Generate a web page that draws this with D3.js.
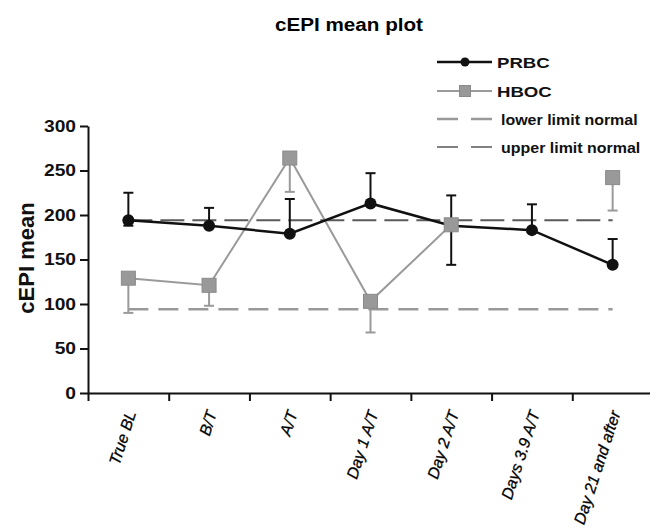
<!DOCTYPE html>
<html>
<head>
<meta charset="utf-8">
<script src="https://cdn.jsdelivr.net/npm/d3@7"></script>
<style>
  body { margin: 0; background: #fff; }
  svg { display: block; font-family: Arial, "Liberation Sans", sans-serif; }
</style>
</head>
<body>
<div id="chart"></div>
<script>
// categories and values
const categories = ['True BL', 'B/T', 'A/T', 'Day 1 A/T', 'Day 2 A/T', 'Days 3.9 A/T', 'Day 21 and after'];
const yTicks = [0, 50, 100, 150, 200, 250, 300];

const prbc = [194, 188, 179, 213, 188, 183, 144];
const prbcHigh = [225, 208, 218, 247, 222, 212, 173];
const prbcLow = [188, null, null, null, 144, null, null];

const hboc = [129, 121, 264, 103, 189, null, 242];
const hbocHigh = [null, null, null, null, null, null, null];
const hbocLow = [90, 98, 226, 68, null, null, 205];

const lowerLimit = 94;
const upperLimit = 194;

const legendLabels = ['PRBC', 'HBOC', 'lower limit normal', 'upper limit normal'];

const width = 650, height = 529;

const svg = d3.select('#chart')
    .append('svg')
    .attr('width', width)
    .attr('height', height);

// the source picture is a bit wider than its fonts, stretch text to match
function stretch(sel, k) {
  sel.each(function() {
    const w = this.getComputedTextLength();
    d3.select(this).attr('textLength', w * k).attr('lengthAdjust', 'spacingAndGlyphs');
  });
}

// scales
const x = d3.scaleBand().domain(categories).range([88, 653]).padding(0);
const xEdge = d3.scaleLinear().domain([0, categories.length]).range([88, 653]);
const y = d3.scaleLinear().domain([0, 300]).range([393, 126]);
const cx = d => x(d) + x.bandwidth() / 2;

// title
svg.append('text')
    .attr('x', 349).attr('y', 31)
    .attr('text-anchor', 'middle')
    .attr('font-size', 17.5).attr('font-weight', 'bold')
    .text('cEPI mean plot')
    .call(stretch, 1.18);

// y axis
const yAxis = svg.append('g')
    .attr('transform', 'translate(88,0)')
    .call(d3.axisLeft(y).tickValues(yTicks).tickSize(8).tickSizeOuter(0).tickPadding(4));
yAxis.selectAll('path, line').attr('stroke', '#111').attr('stroke-width', 2);
yAxis.selectAll('text')
    .attr('font-size', 16).attr('font-weight', 'bold').attr('fill', '#111')
    .attr('font-family', 'Arial, "Liberation Sans", sans-serif')
    .call(stretch, 1.2);

// x axis, ticks at band edges
const xAxis = svg.append('g')
    .attr('transform', 'translate(0,393)')
    .call(d3.axisBottom(xEdge).tickValues(d3.range(categories.length + 1)).tickSize(8).tickSizeOuter(0).tickFormat(''));
xAxis.selectAll('path, line').attr('stroke', '#111').attr('stroke-width', 2);

svg.append('g').selectAll('text')
    .data(categories)
    .join('text')
    .attr('transform', d => `translate(${cx(d) + 8},${413}) rotate(-72)`)
    .attr('text-anchor', 'end')
    .attr('font-size', 16).attr('font-style', 'italic').attr('fill', '#000')
    .attr('stroke', '#000').attr('stroke-width', 0.3)
    .text(d => d);

// y axis title
svg.append('text')
    .attr('transform', 'translate(34,258) rotate(-90)')
    .attr('text-anchor', 'middle')
    .attr('font-size', 22).attr('font-weight', 'bold').attr('fill', '#111')
    .text('cEPI mean');

// normal limits
const x0 = cx(categories[0]), x1 = cx(categories[categories.length - 1]);
svg.append('line')
    .attr('x1', x0).attr('x2', x1).attr('y1', y(lowerLimit)).attr('y2', y(lowerLimit))
    .attr('stroke', '#999').attr('stroke-width', 2.5).attr('stroke-dasharray', '20,10');
svg.append('line')
    .attr('x1', x0).attr('x2', x1).attr('y1', y(upperLimit)).attr('y2', y(upperLimit))
    .attr('stroke', '#5a5a5a').attr('stroke-width', 2).attr('stroke-dasharray', '24,8');

const series = [
  { values: prbc, high: prbcHigh, low: prbcLow, color: '#111', width: 2.5, marker: 'circle' },
  { values: hboc, high: hbocHigh, low: hbocLow, color: '#9a9a9a', width: 2, marker: 'square' }
];

// error bars
series.forEach(s => {
  const g = svg.append('g').attr('stroke', s.color).attr('stroke-width', 2);
  categories.forEach((c, i) => {
    if (s.values[i] == null) return;
    [s.high[i], s.low[i]].forEach(e => {
      if (e == null) return;
      g.append('line').attr('x1', cx(c)).attr('x2', cx(c)).attr('y1', y(s.values[i])).attr('y2', y(e));
      g.append('line').attr('x1', cx(c) - 5).attr('x2', cx(c) + 5).attr('y1', y(e)).attr('y2', y(e));
    });
  });
});

// lines
const line = d3.line()
    .defined(d => d.v != null)
    .x(d => cx(d.c))
    .y(d => y(d.v));

[series[1], series[0]].forEach(s => {
  svg.append('path')
      .datum(categories.map((c, i) => ({ c, v: s.values[i] })))
      .attr('fill', 'none')
      .attr('stroke', s.color)
      .attr('stroke-width', s.width)
      .attr('d', line);
});

// markers
function marker(g, type, px, py, size) {
  if (type === 'circle') {
    g.append('circle').attr('cx', px).attr('cy', py).attr('r', size / 2).attr('fill', '#111');
  } else {
    g.append('rect').attr('x', px - size / 2).attr('y', py - size / 2)
        .attr('width', size).attr('height', size)
        .attr('fill', '#999').attr('stroke', '#8a8a8a').attr('stroke-width', 1);
  }
}

series.forEach(s => {
  const g = svg.append('g');
  categories.forEach((c, i) => {
    if (s.values[i] == null) return;
    marker(g, s.marker, cx(c), y(s.values[i]), s.marker === 'circle' ? 12 : 14);
  });
});

// legend
const legend = svg.append('g');
const legY = [62, 91, 119, 147];
legendLabels.forEach((label, i) => {
  const ly = legY[i];
  if (i < 2) {
    const s = series[i];
    legend.append('line').attr('x1', 437).attr('x2', 492).attr('y1', ly).attr('y2', ly)
        .attr('stroke', s.color).attr('stroke-width', s.width);
    marker(legend, s.marker, 465, ly, s.marker === 'circle' ? 9 : 11);
  } else if (i === 2) {
    legend.append('line').attr('x1', 437).attr('x2', 492).attr('y1', ly).attr('y2', ly)
        .attr('stroke', '#999').attr('stroke-width', 2.5).attr('stroke-dasharray', '21,13');
  } else {
    legend.append('line').attr('x1', 437).attr('x2', 492).attr('y1', ly).attr('y2', ly)
        .attr('stroke', '#5a5a5a').attr('stroke-width', 1.5).attr('stroke-dasharray', '21,13');
  }
  legend.append('text')
      .attr('x', i < 2 ? 497 : 501).attr('y', ly + 5.5)
      .attr('font-size', 15.5).attr('font-weight', 'bold').attr('fill', '#111')
      .text(label)
      .call(stretch, i < 2 ? 1.2 : 1.03);
});
</script>
</body>
</html>
